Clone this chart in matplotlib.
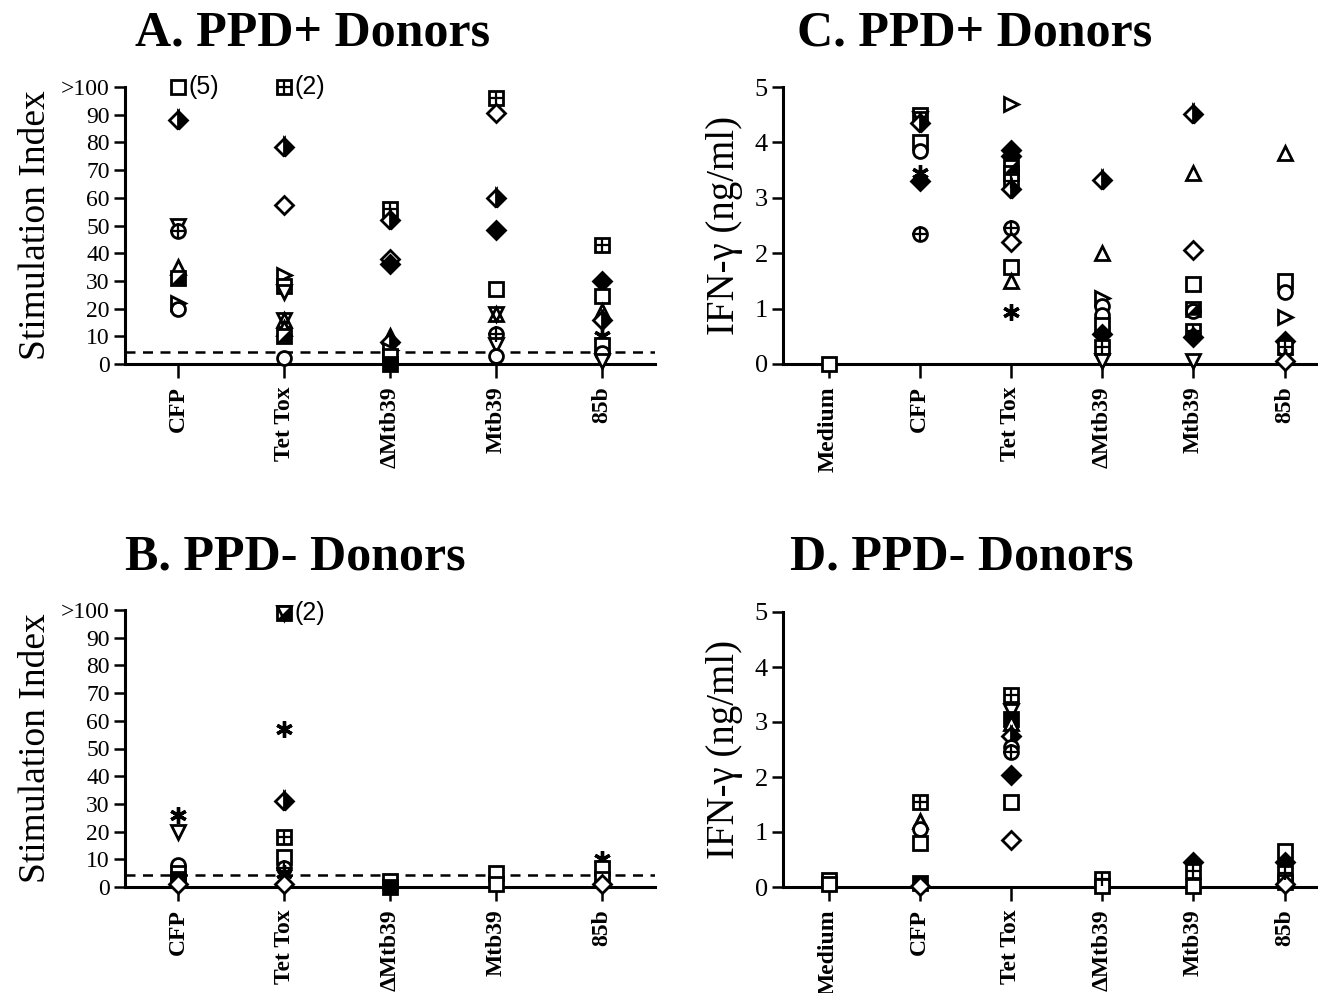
import numpy as np
import matplotlib
matplotlib.use('Agg')
import matplotlib.pyplot as plt

SERIF = 'Liberation Serif'
SANS = 'Liberation Sans'

# categories
cats_si = ['CFP', 'Tet Tox', '\u0394Mtb39', 'Mtb39', '85b']
cats_ifn = ['Medium', 'CFP', 'Tet Tox', '\u0394Mtb39', 'Mtb39', '85b']

# A. PPD+ donors, stimulation index (one list per antigen)
a_vals = [[100, 88, 50, 48, 35, 31, 22, 20],
          [100, 78.5, 57.5, 32, 28, 26, 16, 13, 10, 2],
          [56, 52, 38, 36, 10, 8, 5, 3, 0],
          [96, 90.5, 60, 48.5, 27, 18, 11, 7, 3],
          [43, 30, 24.5, 19, 16, 10, 7, 4, 1]]
a_syms = [['sq', 'dh', 'td', 'cp', 'tu', 'sqh', 'tr', 'co'],
          ['sqp', 'dh', 'do', 'tr', 'sq', 'td', 'hg', 'tu', 'sqh', 'co'],
          ['sqp', 'dh', 'do', 'df', 'tu', 'dh', 'tr', 'sq', 'sf'],
          ['sqp', 'do', 'dh', 'df', 'sq', 'hg', 'cp', 'td', 'co'],
          ['sqp', 'df', 'sq', 'tu', 'dh', 'ast', 'sq', 'co', 'td']]

# B. PPD- donors, stimulation index
b_vals = [[26, 20, 8, 5, 3, 1],
          [99, 99, 57, 31, 18, 11, 7, 5, 1],
          [2, 0],
          [5, 1],
          [10, 7, 3, 1]]
b_syms = [['ast', 'td', 'co', 'sq', 'sf', 'do'],
          ['sqh', 'td', 'ast', 'dh', 'sqp', 'sq', 'cp', 'ast', 'do'],
          ['sq', 'sf'],
          ['sq', 'sq'],
          ['ast', 'sq', 'sq', 'do']]

# C. PPD+ donors, IFN-gamma (ng/ml)
c_vals = [[0],
          [4.5, 4.42, 4.35, 4.0, 3.85, 3.45, 3.3, 2.35],
          [4.7, 3.87, 3.75, 3.55, 3.45, 3.3, 3.15, 2.45, 2.2, 1.75, 1.5, 0.93],
          [3.33, 2.0, 1.2, 1.05, 0.88, 0.7, 0.55, 0.3, 0.05],
          [4.52, 3.45, 2.05, 1.45, 1.0, 0.95, 0.6, 0.48, 0.05],
          [3.8, 1.5, 1.3, 0.85, 0.42, 0.3, 0.12, 0.05]]
c_syms = [['sq'],
          ['sq', 'td', 'dh', 'sq', 'co', 'ast', 'df', 'cp'],
          ['tr', 'df', 'df', 'sqh', 'sq', 'sqp', 'dh', 'cp', 'do', 'sq', 'tu', 'ast'],
          ['dh', 'tu', 'tr', 'co', 'co', 'sq', 'df', 'sqp', 'td'],
          ['dh', 'tu', 'do', 'sq', 'sqh', 'co', 'sqp', 'df', 'td'],
          ['tu', 'sq', 'co', 'tr', 'df', 'sqp', 'ast', 'do']]

# D. PPD- donors, IFN-gamma (ng/ml)
d_vals = [[0.12, 0.05],
          [1.55, 1.2, 1.05, 0.8, 0.08, 0.02],
          [3.5, 3.2, 3.05, 2.98, 2.75, 2.55, 2.45, 2.03, 1.55, 0.85],
          [0.15, 0.02],
          [0.45, 0.3, 0.02],
          [0.65, 0.45, 0.25, 0.1, 0.05]]
d_syms = [['sq', 'sq'],
          ['sqp', 'tu', 'co', 'sq', 'sf', 'do'],
          ['sqp', 'td', 'sf', 'tu', 'dh', 'co', 'cp', 'df', 'sq', 'do'],
          ['sqp', 'sq'],
          ['df', 'sqp', 'sq'],
          ['sq', 'df', 'sqp', 'sq', 'do']]

cutoff = 4.3  # dashed line in A and B

half_tri = [(1, -1), (1, 1), (-1, -1), (1, -1)]


def draw(ax, x, y, sym):
    kw = dict(ms=10, mec='black', mew=2.0, ls='none', clip_on=False, zorder=3)
    if sym in ('sq', 'sqp', 'sqh'):
        ax.plot(x, y, 's', mfc='white', **kw)
        if sym == 'sqp':
            ax.plot(x, y, '+', color='black', ms=10, mew=1.6, clip_on=False, zorder=4)
        if sym == 'sqh':
            ax.plot(x, y, marker=half_tri, color='black', ms=8, ls='none', clip_on=False, zorder=4)
    elif sym == 'sf':
        ax.plot(x, y, 's', mfc='black', **kw)
    elif sym == 'do':
        ax.plot(x, y, 'D', mfc='white', **dict(kw, ms=9))
    elif sym == 'dh':
        ax.plot(x, y, 'D', mfc='black', fillstyle='right', markerfacecoloralt='white', **dict(kw, ms=9))
    elif sym == 'df':
        ax.plot(x, y, 'D', mfc='black', **dict(kw, ms=9))
    elif sym in ('co', 'cp'):
        ax.plot(x, y, 'o', mfc='white', **kw)
        if sym == 'cp':
            ax.plot(x, y, '+', color='black', ms=11, mew=1.6, clip_on=False, zorder=4)
    elif sym == 'tu':
        ax.plot(x, y, '^', mfc='white', **kw)
    elif sym == 'td':
        ax.plot(x, y, 'v', mfc='white', **kw)
    elif sym == 'tr':
        ax.plot(x, y, '>', mfc='white', **kw)
    elif sym == 'hg':
        ax.plot(x, y, '^', mfc='none', **kw)
        ax.plot(x, y, 'v', mfc='none', **kw)
    elif sym == 'ast':
        ax.plot(x, y, marker=(6, 2, 0), color='black', ms=12, mew=2.4, ls='none', clip_on=False, zorder=3)


def style_axes(ax, xlim):
    for s in ('top', 'right'):
        ax.spines[s].set_visible(False)
    ax.spines['left'].set_linewidth(2.2)
    ax.spines['bottom'].set_linewidth(2.2)
    ax.set_xlim(*xlim)
    ax.tick_params(axis='y', direction='out', length=8, width=1.8, pad=3)
    ax.tick_params(axis='x', direction='out', length=10, width=1.8, pad=6)
    ax.set_facecolor('none')


fig = plt.figure(figsize=(13.18, 9.93), dpi=100)
H = 993.0
W = 1318.0


def box(l, r, top, bot):
    return [l / W, (H - bot) / H, (r - l) / W, (bot - top) / H]


si_ticks = list(range(0, 101, 10))
si_labels = [str(t) for t in si_ticks[:-1]] + ['>100']

ax_a = fig.add_axes(box(125, 655, 87, 364))
ax_b = fig.add_axes(box(125, 655, 610, 887))
ax_c = fig.add_axes(box(783, 1318, 87, 364))
ax_d = fig.add_axes(box(783, 1318, 612, 887))

for ax, vals, syms in ((ax_a, a_vals, a_syms), (ax_b, b_vals, b_syms)):
    style_axes(ax, (0.5, 5.5))
    ax.set_ylim(0, 100)
    ax.set_yticks(si_ticks)
    ax.set_yticklabels(si_labels, family=SERIF, fontsize=17)
    ax.set_xticks(range(1, 6))
    ax.set_xticklabels(cats_si, rotation=90, family=SERIF, fontweight='bold', fontsize=17)
    ax.axhline(cutoff, color='black', ls=(0, (4, 3)), lw=1.8, zorder=2)
    for i, (vs, ss) in enumerate(zip(vals, syms)):
        for v, s in zip(vs, ss):
            draw(ax, i + 1, v, s)
    ax.set_ylabel('Stimulation Index', family=SERIF, fontsize=27, labelpad=6)

ax_a.text(1.1, 100, '(5)', family=SANS, fontsize=18, va='center', ha='left')
ax_a.text(2.1, 100, '(2)', family=SANS, fontsize=18, va='center', ha='left')
ax_b.text(2.1, 99, '(2)', family=SANS, fontsize=18, va='center', ha='left')

for ax, vals, syms in ((ax_c, c_vals, c_syms), (ax_d, d_vals, d_syms)):
    style_axes(ax, (0.5, 0.5 + (W - 783) / 91.2))
    ax.set_ylim(0, 5)
    ax.set_yticks(range(0, 6))
    ax.set_yticklabels([str(t) for t in range(0, 6)], family=SERIF, fontsize=19)
    ax.set_xticks(range(1, 7))
    ax.set_xticklabels(cats_ifn, rotation=90, family=SERIF, fontweight='bold', fontsize=17)
    for i, (vs, ss) in enumerate(zip(vals, syms)):
        for v, s in zip(vs, ss):
            draw(ax, i + 1, v, s)
    ax.set_ylabel('IFN-\u03b3 (ng/ml)', family=SERIF, fontsize=28, labelpad=8)

tkw = dict(family=SERIF, fontweight='bold', fontsize=36, ha='center', va='center')
fig.text(313 / W, 1 - 33 / H, 'A. PPD+ Donors', **tkw)
fig.text(975 / W, 1 - 33 / H, 'C. PPD+ Donors', **tkw)
fig.text(295 / W, 1 - 557 / H, 'B. PPD- Donors', **tkw)
fig.text(962 / W, 1 - 557 / H, 'D. PPD- Donors', **tkw)

fig.savefig('out.png', dpi=100)
